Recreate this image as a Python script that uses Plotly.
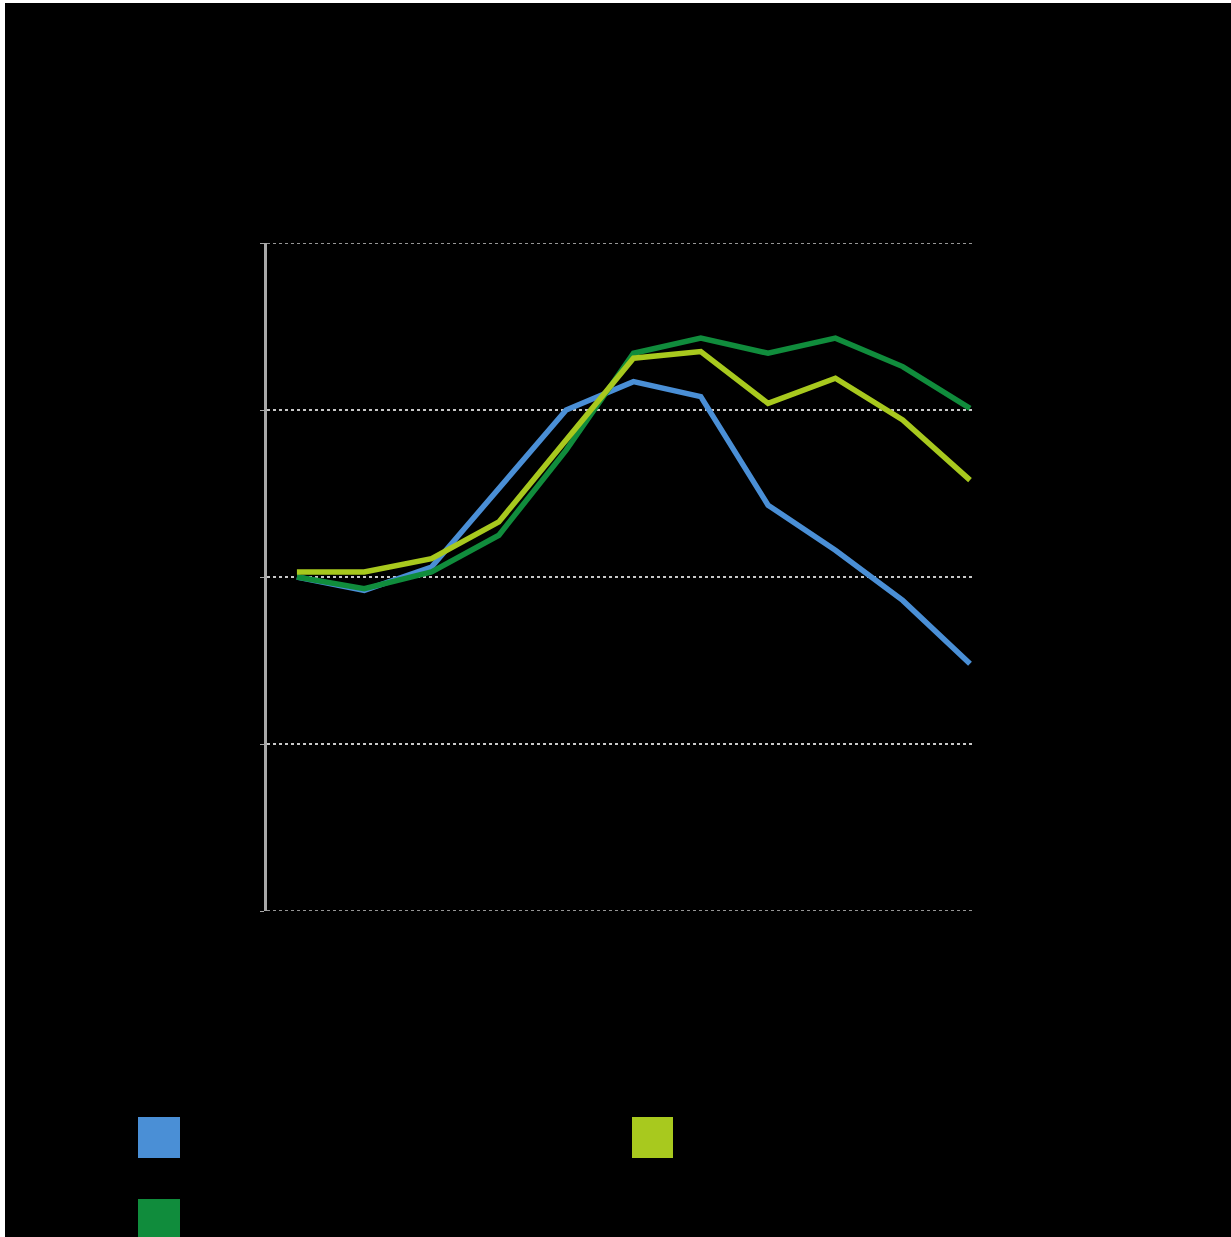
import plotly.graph_objects as go

# ---- data (index with 100 at the start) ----
periods = list(range(11))
series_blue = [100.0, 99.2, 100.6, 105.3, 110.0, 111.7, 110.8, 104.3, 101.6, 98.6, 94.8]
series_yellow = [100.3, 100.3, 101.1, 103.3, 108.2, 113.1, 113.5, 110.4, 111.9, 109.4, 105.8]
series_green = [100.0, 99.3, 100.3, 102.5, 107.6, 113.4, 114.3, 113.4, 114.3, 112.6, 110.1]
y_ticks = [80, 90, 100, 110, 120]
y_min, y_max = 80, 120

BLUE = "#4a8fd6"
YELLOW = "#a8c91e"
GREEN = "#108c3c"
GRID = "#c8c8c8"

W, H = 1226, 1234
L, R, T, B = 262, 256, 240, 326
PW, PH = W - L - R, H - T - B

fig = go.Figure()
for name, vals, col in [("Series 1", series_blue, BLUE),
                        ("Series 3", series_green, GREEN),
                        ("Series 2", series_yellow, YELLOW)]:
    fig.add_trace(go.Scatter(x=periods, y=vals, mode="lines", name=name,
                             line=dict(color=col, width=5.5), showlegend=False))


def px_x(fx):
    return (fx - L) / PW


def px_y(fy):
    return (T + PH - fy) / PH


shapes = []
# edge gridlines (plotly omits gridlines at the range ends)
for yv in (y_min, y_max):
    shapes.append(dict(type="line", xref="paper", yref="y", x0=0, x1=1, y0=yv, y1=yv,
                       line=dict(color=GRID, width=1.5, dash="dot"), layer="below"))
for (x0, y0, x1, y1, col) in [(133, 1114, 175, 1155, BLUE),
                              (627, 1114, 668, 1155, YELLOW),
                              (133, 1196, 175, 1240, GREEN)]:
    shapes.append(dict(type="rect", xref="paper", yref="paper",
                       x0=px_x(x0), x1=px_x(x1), y0=px_y(y1), y1=px_y(y0),
                       fillcolor=col, line=dict(width=0)))

step = 67.5
fig.update_layout(
    width=W, height=H,
    margin=dict(l=L, r=R, t=T, b=B),
    paper_bgcolor="black", plot_bgcolor="black",
    shapes=shapes,
    xaxis=dict(range=[-30 / step, 10 + 5 / step], showgrid=False, zeroline=False,
               showline=False, showticklabels=False, ticks=""),
    yaxis=dict(range=[y_min, y_max], tickvals=y_ticks, showgrid=True,
               gridcolor=GRID, griddash="dot", gridwidth=1.5,
               zeroline=False, showline=True, linecolor="#a8a8a8", linewidth=2.5,
               ticks="outside", ticklen=4, tickcolor="#a8a8a8",
               showticklabels=False),
)

fig.write_html("out.html",
               post_script="document.body.style.margin='3px 0 0 5px';"
                           "document.body.style.background='white';"
                           "document.body.style.overflow='hidden';")
